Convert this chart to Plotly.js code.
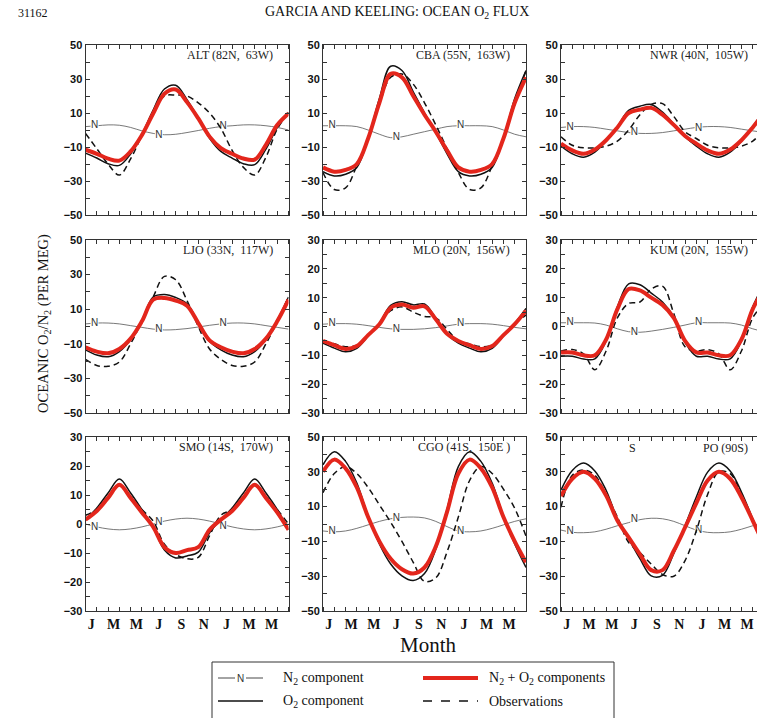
<!DOCTYPE html>
<html><head><meta charset="utf-8">
<script src="https://cdn.plot.ly/plotly-3.0.1.min.js"></script>
<style>html,body{margin:0;padding:0;overflow:hidden;background:#fff}#chart{width:770px;height:718px}</style>
</head><body><div id="chart"></div>
<script>
// ---------- data (months since Jan 1; 18 months shown) ----------
const months = [0,1,2,3,4,5,6,7,8,9,10,11,12,13,14,15,16,17,18];
const monthTickVals = [0.5,2.5,4.5,6.5,8.5,10.5,12.5,14.5,16.5];
const monthTickText = ['J','M','M','J','S','N','J','M','M'];
const nLabelX = [0.8, 6.5, 12.2];

const stationLabels = ['ALT (82N,  63W)','CBA (55N,  163W)','NWR (40N,  105W)',
                       'LJO (33N,  117W)','MLO (20N,  156W)','KUM (20N,  155W)',
                       'SMO (14S,  170W)','CGO (41S,  150E )','PO (90S)'];

// ALT
const ALT_N   = [2,2.5,3,2.8,1.5,-0.5,-2,-2.8,-2.5,-1.5,-0.3,1,2,2.5,3,3,2.5,1.5,0];
const ALT_O2  = [-13.6,-16.5,-19.8,-20.8,-14.1,-2.5,11.7,24.1,26.3,17.9,7.1,-4.9,-12.6,-16.5,-19.8,-20.4,-11.2,1.4,10.5];
const ALT_TOT = [-11.6,-14,-16.8,-18,-12.6,-3,9.7,21.3,23.8,16.4,6.8,-3.9,-10.6,-14,-16.8,-17.4,-8.7,2.9,9.7];
const ALT_OBS = [-2,-11,-20,-26.5,-17,-3,10.5,20,20.5,20,16,10,1,-12,-22,-26.5,-16,0.5,10];
const ALT_NL  = [2.5,-3,2];
// CBA
const CBA_N   = [2.5,2.5,2.5,2,0,-2.5,-4.5,-4,-2.5,-1,0.5,2,2.5,2.5,2.5,2,0,-2.5,-4];
const CBA_O2  = [-24.5,-27,-26,-22,-5,18.5,37.5,35,22.5,10,-1.5,-14,-24.5,-27,-26,-22,-5,18.5,35];
const CBA_TOT = [-22,-24.5,-23.5,-20,-5,16,33,31,20,9,-1,-12,-22,-24.5,-23.5,-20,-5,16,31];
const CBA_OBS = [-25,-35,-34,-21,-5,15,31,33,27,16,3,-11,-25,-35,-34,-21,-5,15,35];
const CBA_NL  = [2.5,-4.5,2.5];
// NWR
const NWR_N   = [1.5,2,2,1.5,0.5,-0.5,-1.5,-2,-2,-1.5,-0.5,0.5,1.5,2,2,1.5,0.5,-0.5,-1.5];
const NWR_O2  = [-9.5,-14,-16,-13,-6.5,2,11.5,14,15,10.5,3.5,-4,-9.5,-14,-16,-13,-6.5,2,11.5];
const NWR_TOT = [-8,-12,-14,-11.5,-6,1.5,10,12,13,9,3,-3.5,-8,-12,-14,-11.5,-6,1.5,10];
const NWR_OBS = [-4,-9,-10.5,-10.5,-9.5,-6.5,0,9,15,15.5,8,-1,-5,-9,-10.5,-10.5,-9.5,-6.5,0];
const NWR_NL  = [1.5,-1.5,1];
// LJO
const LJO_N   = [1.5,2,2,1.5,0.5,-0.5,-1.5,-2,-1.8,-1.2,-0.3,0.7,1.5,2,2,1.5,0.5,-0.5,-1.5];
const LJO_O2  = [-13.5,-16.5,-17.5,-14.5,-7.5,3.5,17,18.5,16.8,13.2,2.3,-8.7,-13.5,-16.5,-17.5,-14.5,-7.5,3.5,17];
const LJO_TOT = [-12,-14.5,-15.5,-13,-7,3,15.5,16.5,15,12,2,-8,-12,-14.5,-15.5,-13,-7,3,15.5];
const LJO_OBS = [-19,-22.5,-23,-20.5,-10,3,17,29,27,15,0,-13,-19,-22.5,-23,-20.5,-10,3,17];
const LJO_NL  = [2,-2,2];
// MLO
const MLO_N   = [0.8,1,1,0.8,0.3,-0.3,-0.8,-1,-1,-0.8,-0.4,0.2,0.8,1,1,0.8,0.3,-0.3,-0.8];
const MLO_O2  = [-5.8,-7.5,-8.8,-7.6,-3.3,1.1,7.3,8.6,7.5,7.8,2.9,-2.7,-5.8,-7.5,-8.8,-7.6,-3.3,1.1,6.3];
const MLO_TOT = [-5,-6.5,-7.8,-6.8,-3,0.8,6.5,7.6,6.5,7,2.5,-2.5,-5,-6.5,-7.8,-6.8,-3,0.8,5.5];
const MLO_OBS = [-5,-6,-7,-6.5,-3,1,5.5,6.8,5,3.5,3,-1,-5,-6,-7,-6.5,-3,1,4];
const MLO_NL  = [1,-1,1];
// KUM
const KUM_N   = [1.3,1.3,1.3,1.2,0.5,-0.8,-1.8,-2,-1.6,-1,-0.3,0.5,1.3,1.3,1.3,1.2,0.5,-0.8,-1.8];
const KUM_O2  = [-10.3,-10.3,-11.3,-11.2,-5,6.8,14.8,14.5,11.6,8.5,3.3,-5.5,-10.3,-10.3,-11.3,-11.2,-5,6.8,14.8];
const KUM_TOT = [-9,-9,-10,-10,-4.5,6,13,12.5,10,7.5,3,-5,-9,-9,-10,-10,-4.5,6,13];
const KUM_OBS = [-8.5,-8,-9.5,-15,-8.5,3,8,8.5,13,14,4.5,-7,-8.5,-8,-9.5,-15,-8.5,3,8];
const KUM_NL  = [1.3,-2,1.3];
// SMO
const SMO_N   = [0,-1,-1.7,-2,-1.7,-1,0,1,1.7,2,1.7,1,0,-1,-1.7,-2,-1.7,-1,0];
const SMO_O2  = [1.5,5.5,10.7,15.5,10.7,5,-1,-9,-11.7,-11,-9.7,-3,1.5,5.5,10.7,15.5,10.7,5,-2];
const SMO_TOT = [1.5,4.5,9,13.5,9,4,-1,-8,-10,-9,-8,-2,1.5,4.5,9,13.5,9,4,-2];
const SMO_OBS = [3,5,9.5,13.5,9.5,5,1,-7,-10.5,-12,-11.5,-4,3,5,9.5,13.5,9.5,5,0];
const SMO_NL  = [-1.2,0.5,-0.8];
// CGO
const CGO_N   = [-4,-4.5,-4,-2.5,-0.5,1.5,3,3.8,4,3.5,1.5,-1.5,-4,-4.5,-4,-2.5,-0.5,1.5,3];
const CGO_O2  = [34,41.5,36,23.5,4.5,-11.5,-23,-29.8,-32.5,-28.5,-14.5,8.5,33,41.5,36,23.5,4.5,-11.5,-25];
const CGO_TOT = [30,37,32,21,4,-10,-20,-26,-28.5,-25,-13,7,29,37,32,21,4,-10,-22];
const CGO_OBS = [18,29,33,29,21,11,1,-10,-22,-33,-31,-16,4,25,33,29,20,9,-7];
const CGO_NL  = [-4.4,3,-4.3];
// SPO
const SPO_N   = [-3.5,-4.8,-5,-4.5,-3,-1,0.8,2.5,3.3,3,1.5,-1,-3.5,-4.8,-5,-4.5,-3,-1,0.8];
const SPO_O2  = [19.5,30.8,35,30.5,19.4,3,-8.5,-19.9,-29.8,-29.5,-16.9,-1,15.5,29.8,35,30.5,18.4,3,-12.8];
const SPO_TOT = [16,26,30,26,16.4,2,-7.7,-17.4,-26.5,-26.5,-15.4,-2,12,25,30,26,15.4,2,-12];
const SPO_OBS = [9.6,28,31,28,17,4,-10.6,-16.4,-23,-29,-30,-21,-3.9,17,30,29,17,2,-12];
const SPO_NL  = [-4.2,2.8,-3.9];

const panels = [
  [ALT_N,ALT_O2,ALT_TOT,ALT_OBS,ALT_NL],[CBA_N,CBA_O2,CBA_TOT,CBA_OBS,CBA_NL],[NWR_N,NWR_O2,NWR_TOT,NWR_OBS,NWR_NL],
  [LJO_N,LJO_O2,LJO_TOT,LJO_OBS,LJO_NL],[MLO_N,MLO_O2,MLO_TOT,MLO_OBS,MLO_NL],[KUM_N,KUM_O2,KUM_TOT,KUM_OBS,KUM_NL],
  [SMO_N,SMO_O2,SMO_TOT,SMO_OBS,SMO_NL],[CGO_N,CGO_O2,CGO_TOT,CGO_OBS,CGO_NL],[SPO_N,SPO_O2,SPO_TOT,SPO_OBS,SPO_NL]];
const yRanges = [[-50,50],[-50,50],[-50,50],[-50,50],[-30,30],[-30,30],[-30,30],[-50,50],[-50,50]];

// ---------- layout geometry (pixels) ----------
const W = 770, H = 718;
const colPx = [[85.5,288.5],[323,526],[561,764]];
const rowPx = [[45,215],[240,413],[437,611]];
const fx = p => p / W, fy = p => 1 - p / H;

const traces = [], layout = {
  width: W, height: H, margin:{l:0,r:0,t:0,b:0}, showlegend:false,
  paper_bgcolor:'#fff', plot_bgcolor:'#fff', hovermode:false,
  annotations:[], shapes:[]
};
const serif = 'Liberation Serif, Times New Roman, serif';
const sans = 'Liberation Sans, Arial, sans-serif';
const ann = (x, y, text, font, extra) => layout.annotations.push(Object.assign({
  xref:'paper', yref:'paper', x:fx(x), y:fy(y), text, showarrow:false, xanchor:'center', yanchor:'middle', font}, extra||{}));

panels.forEach((p, i) => {
  const r = Math.floor(i/3), c = i%3, k = i+1;
  const xa = k===1 ? 'x' : 'x'+k, ya = k===1 ? 'y' : 'y'+k;
  const [N,O2,TOT,OBS,NL] = p;
  const common = {x: months, xaxis: xa, yaxis: ya, mode:'lines', hoverinfo:'skip'};
  traces.push(Object.assign({}, common, {y:N, line:{color:'#555', width:0.8, shape:'spline'}}));
  traces.push({x:nLabelX, y:NL, xaxis:xa, yaxis:ya, mode:'markers+text', text:['N','N','N'],
    textposition:'middle center', textfont:{family:sans, size:10, color:'#333'},
    marker:{symbol:'square', size:8, color:'#fff'}, hoverinfo:'skip', cliponaxis:false});
  traces.push(Object.assign({}, common, {y:OBS, line:{color:'#111', width:1.5, dash:'6px,4px', shape:'spline'}}));
  traces.push(Object.assign({}, common, {y:O2, line:{color:'#111', width:1.5, shape:'spline'}}));
  traces.push(Object.assign({}, common, {y:TOT, line:{color:'#e3261c', width:4, shape:'spline'}}));

  const yr = yRanges[i];
  const big = yr[1] === 50;
  layout[k===1?'xaxis':'xaxis'+k] = {
    domain:[fx(colPx[c][0]), fx(colPx[c][1])], anchor: ya, range:[0,18],
    showline:true, linecolor:'#333', linewidth:1, mirror:'allticks', showgrid:false, zeroline:false,
    tickmode:'array', tickvals: monthTickVals, ticktext: monthTickText, ticks:'',
    showticklabels: r===2, tickfont:{family:serif, size:14, weight:'bold', color:'#111'},
    minor:{tickmode:'linear', tick0:0, dtick:1, ticks:'inside', ticklen:4, tickcolor:'#333', showgrid:false}
  };
  layout[k===1?'yaxis':'yaxis'+k] = {
    domain:[fy(rowPx[r][1]), fy(rowPx[r][0])], anchor: xa, range: yr,
    showline:true, linecolor:'#333', linewidth:1, mirror:'allticks', showgrid:false, zeroline:false,
    tickmode:'linear', tick0: yr[0], dtick: big ? 20 : 10, ticks:'inside', ticklen:4, tickcolor:'#333',
    tickfont:{family:sans, size:11, weight:'bold', color:'#111'},
    minor:{tickmode:'linear', tick0: yr[0], dtick: big ? 10 : 5, ticks:'inside', ticklen:4, tickcolor:'#333', showgrid:false}
  };
  const lf = {family:serif, size:12, color:'#222'};
  if (i === 8) {
    ann(632, rowPx[r][0]+11, 'S', lf);
    ann(750, rowPx[r][0]+11, stationLabels[i], lf, {xanchor:'right'});
  } else {
    ann(colPx[c][1]-14, rowPx[r][0]+10, stationLabels[i], lf, {xanchor:'right'});
  }
});

// titles
ann(33, 13, '31162', {family:serif, size:12, color:'#111'});
ann(397, 13, 'GARCIA AND KEELING: OCEAN O<sub>2</sub> FLUX', {family:serif, size:14, color:'#111'});
ann(44, 324, 'OCEANIC O<sub>2</sub>/N<sub>2</sub> (PER MEG)', {family:serif, size:14.5, color:'#111'}, {textangle:-90});
ann(428, 645, 'Month', {family:serif, size:21, color:'#111'});

// legend (drawn)
const L = {left:212, right:614, top:662, bottom:730, y1:678, y2:701};
layout.shapes.push({type:'rect', xref:'paper', yref:'paper', x0:fx(L.left), x1:fx(L.right), y0:fy(L.top), y1:fy(L.bottom),
  line:{color:'#333', width:1}, fillcolor:'rgba(0,0,0,0)'});
const seg = (x0,x1,y,line) => layout.shapes.push({type:'line', xref:'paper', yref:'paper', x0:fx(x0), x1:fx(x1), y0:fy(y), y1:fy(y), line});
seg(218,235,L.y1,{color:'#333', width:0.9});
seg(246,263,L.y1,{color:'#333', width:0.9});
ann(240.5, L.y1, 'N', {family:sans, size:10, color:'#333'});
seg(423,478,L.y1,{color:'#e3261c', width:4});
seg(218,263,L.y2,{color:'#111', width:1.5});
seg(423,478,L.y2,{color:'#111', width:1.5, dash:'dash'});
const lt = {family:serif, size:14, color:'#111'};
ann(281, L.y1, 'N<sub>2</sub> component', lt, {xanchor:'left'});
ann(487, L.y1, 'N<sub>2</sub> + O<sub>2</sub> components', lt, {xanchor:'left'});
ann(281, L.y2, 'O<sub>2</sub> component', lt, {xanchor:'left'});
ann(487, L.y2, 'Observations', lt, {xanchor:'left'});

Plotly.newPlot('chart', traces, layout, {displayModeBar:false, staticPlot:true});
</script></body></html>
